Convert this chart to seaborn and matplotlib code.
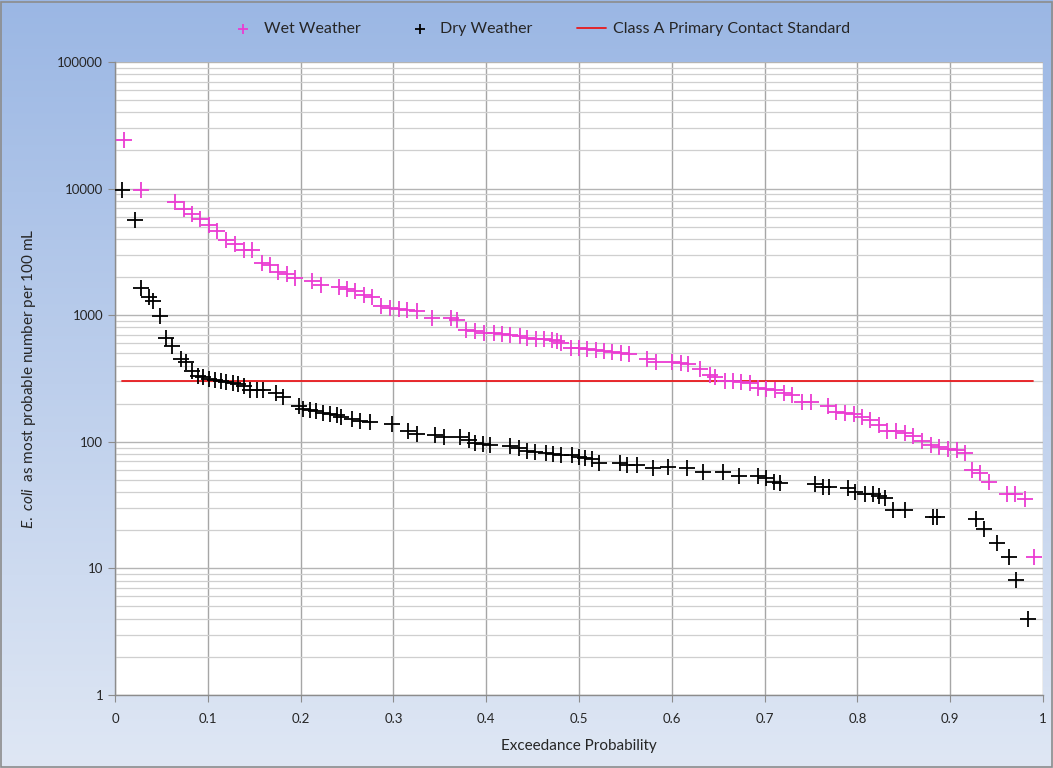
import numpy as np
import pandas as pd
import seaborn as sns
import matplotlib.pyplot as plt
from matplotlib.ticker import FixedLocator, LogLocator, NullFormatter

# wet weather samples: exceedance probability and E. coli MPN/100 mL
wet_prob = [0.010, 0.028, 0.065, 0.074, 0.083, 0.092, 0.101, 0.110, 0.120, 0.129,
            0.139, 0.148, 0.158, 0.167, 0.176, 0.185, 0.194, 0.212, 0.222, 0.241,
            0.250, 0.259, 0.268, 0.277, 0.287, 0.296, 0.306, 0.315, 0.325, 0.342,
            0.362, 0.369, 0.378, 0.388, 0.398, 0.408, 0.417, 0.426, 0.436, 0.444,
            0.454, 0.462, 0.471, 0.476, 0.481, 0.491, 0.500, 0.509, 0.518, 0.527,
            0.536, 0.545, 0.554, 0.573, 0.583, 0.600, 0.610, 0.618, 0.630, 0.641,
            0.647, 0.657, 0.666, 0.675, 0.684, 0.693, 0.702, 0.711, 0.721, 0.730,
            0.740, 0.750, 0.768, 0.777, 0.787, 0.796, 0.805, 0.814, 0.823, 0.832,
            0.842, 0.851, 0.860, 0.870, 0.879, 0.888, 0.898, 0.907, 0.916, 0.923,
            0.932, 0.942, 0.961, 0.970, 0.981, 0.990]
wet_ecoli = [24200, 9700, 7900, 6900, 6300, 5700, 5200, 4600, 3900, 3650,
             3300, 3300, 2600, 2500, 2200, 2100, 1950, 1860, 1740, 1660,
             1620, 1560, 1450, 1380, 1190, 1140, 1110, 1090, 1080, 950,
             950, 910, 770, 745, 720, 720, 705, 700, 680, 660,
             650, 650, 640, 625, 600, 550, 550, 540, 532, 525,
             515, 505, 490, 450, 430, 430, 420, 415, 375, 337,
             325, 302, 302, 298, 293, 265, 262, 257, 241, 234,
             205, 205, 190, 171, 170, 166, 157, 148, 135, 121,
             121, 117, 111, 101, 95, 91, 88, 86, 81, 60,
             57, 48, 39, 39, 35, 12.2]

# dry weather samples
dry_prob = [0.008, 0.022, 0.028, 0.037, 0.041, 0.049, 0.055, 0.061, 0.071, 0.077,
            0.083, 0.089, 0.095, 0.101, 0.108, 0.114, 0.120, 0.127, 0.133, 0.139,
            0.145, 0.153, 0.160, 0.174, 0.181, 0.198, 0.203, 0.210, 0.217, 0.224,
            0.232, 0.239, 0.244, 0.255, 0.264, 0.275, 0.299, 0.316, 0.325, 0.345,
            0.354, 0.372, 0.381, 0.388, 0.397, 0.404, 0.426, 0.435, 0.444, 0.453,
            0.464, 0.472, 0.481, 0.493, 0.500, 0.506, 0.514, 0.522, 0.544, 0.552,
            0.562, 0.580, 0.596, 0.616, 0.634, 0.655, 0.672, 0.693, 0.702, 0.710,
            0.717, 0.754, 0.763, 0.769, 0.790, 0.797, 0.808, 0.817, 0.823, 0.830,
            0.838, 0.851, 0.881, 0.886, 0.928, 0.936, 0.950, 0.963, 0.971, 0.984]
dry_ecoli = [9750, 5600, 1650, 1400, 1300, 990, 660, 570, 450, 430,
             360, 332, 324, 313, 308, 302, 294, 290, 285, 276,
             258, 258, 257, 242, 227, 190, 181, 179, 176, 170,
             166, 163, 156, 151, 146, 142, 137, 122, 115, 113,
             110, 110, 103, 97, 96, 95, 93, 90, 85, 83,
             81, 80, 79, 79, 76, 74, 73, 68, 68, 66,
             65, 62, 63, 62, 58, 58, 54, 53.5, 52, 48,
             47, 46, 44, 44, 43, 40, 39, 39, 37, 36,
             29, 29, 25.6, 25.3, 24.4, 20.5, 16, 12.4, 8.1, 4.0]

# Class A primary contact standard
std_prob = [0.0075, 0.989]
std_ecoli = [300, 300]

x_ticks = [0, 0.1, 0.2, 0.3, 0.4, 0.5, 0.6, 0.7, 0.8, 0.9, 1]
x_tick_labels = ["0", "0.1", "0.2", "0.3", "0.4", "0.5", "0.6", "0.7", "0.8", "0.9", "1"]
y_ticks = [1, 10, 100, 1000, 10000, 100000]
y_tick_labels = ["1", "10", "100", "1000", "10000", "100000"]

sns.set_style("white")
plt.rcParams["font.family"] = ["Lato", "DejaVu Sans"]
plt.rcParams["mathtext.fontset"] = "custom"
plt.rcParams["mathtext.rm"] = "Lato"
plt.rcParams["mathtext.it"] = "Lato:italic"

wet_df = pd.DataFrame({"prob": wet_prob, "ecoli": wet_ecoli})
dry_df = pd.DataFrame({"prob": dry_prob, "ecoli": dry_ecoli})
std_df = pd.DataFrame({"prob": std_prob, "ecoli": std_ecoli})

fig = plt.figure(figsize=(10.53, 7.68), dpi=100)

# gradient background
bg = fig.add_axes([0, 0, 1, 1], zorder=-10)
top_c = np.array([155, 183, 228]) / 255
bot_c = np.array([223, 231, 244]) / 255
t = np.linspace(0, 1, 256)[:, None]
grad = top_c[None, :] * (1 - t) + bot_c[None, :] * t
bg.imshow(grad[:, None, :], aspect="auto", extent=[0, 1, 0, 1])
bg.set_axis_off()
fig.patches.append(plt.Rectangle((0.001, 0.001), 0.998, 0.997, transform=fig.transFigure,
                                 fill=False, edgecolor="#8c8c8c", linewidth=1.2))

ax = fig.add_axes([0.1092, 0.0951, 0.8813, 0.8242])
ax.set_facecolor("white")

sns.scatterplot(data=wet_df, x="prob", y="ecoli", marker="+", s=125, color="#ea3cd2",
                linewidth=1.3, ax=ax, label="Wet Weather", zorder=3)
sns.scatterplot(data=dry_df, x="prob", y="ecoli", marker="+", s=125, color="black",
                linewidth=1.3, ax=ax, label="Dry Weather", zorder=3)
sns.lineplot(data=std_df, x="prob", y="ecoli", color="#e8191c", linewidth=1.3, ax=ax,
             label="Class A Primary Contact Standard", zorder=2)

ax.set_yscale("log")
ax.set_xlim(0, 1)
ax.set_ylim(1, 100000)
ax.xaxis.set_major_locator(FixedLocator(x_ticks))
ax.set_xticklabels(x_tick_labels)
ax.yaxis.set_major_locator(FixedLocator(y_ticks))
ax.set_yticklabels(y_tick_labels)
ax.yaxis.set_minor_locator(LogLocator(base=10, subs=np.arange(2, 10)))
ax.yaxis.set_minor_formatter(NullFormatter())

ax.grid(True, which="major", axis="x", color="#a6a6a6", linewidth=1.0)
ax.grid(True, which="major", axis="y", color="#b4b4b4", linewidth=1.0)
ax.grid(True, which="minor", axis="y", color="#cfcfcf", linewidth=0.9)
ax.set_axisbelow(True)

for side in ["top", "right"]:
    ax.spines[side].set_visible(False)
for side in ["left", "bottom"]:
    ax.spines[side].set_color("#8c8c8c")
    ax.spines[side].set_linewidth(1.0)

ax.tick_params(axis="both", which="major", length=5, color="#8c8c8c", labelsize=9.5,
               direction="out", left=True, bottom=True)
ax.tick_params(axis="y", which="minor", length=0)
ax.tick_params(axis="x", pad=8)

ax.set_xlabel("Exceedance Probability", fontsize=11, labelpad=10)
ax.set_ylabel(r"$\mathit{E.\ coli}$  as most probable number per 100 mL", fontsize=11, labelpad=14)

handles, labels = ax.get_legend_handles_labels()
ax.get_legend().remove()
fig.legend(handles, labels, loc="center", bbox_to_anchor=(0.512, 0.962), ncol=3,
           frameon=False, fontsize=11.5, handlelength=1.8, handletextpad=0.4,
           columnspacing=2.8, markerscale=0.7)

fig.savefig("out.png", dpi=100)
